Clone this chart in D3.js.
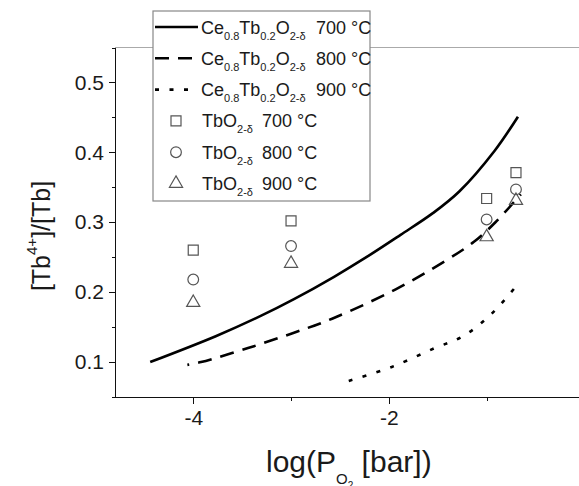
<!DOCTYPE html>
<meta charset="utf-8">
<style>
body { margin: 0; background: #fff; }
svg { display: block; font-family: "Liberation Sans", Arial, sans-serif; }
.axis path, .axis line { fill: none; stroke: #111; shape-rendering: crispEdges; }
.axis text { font-size: 21px; fill: #1a1a1a; }
.series { fill: none; stroke: #000; stroke-width: 2.6; }
.mark { fill: none; stroke: #555; stroke-width: 1.2; }
</style>
<body>
<script src="https://cdn.jsdelivr.net/npm/d3@7"></script>
<script>
// Ce0.8Tb0.2O2-d curves (log pO2 vs [Tb4+]/[Tb])
var x700 = [-4.44, -3.77, -3.31, -2.97, -2.56, -2.23, -1.88, -1.55, -1.28, -0.92, -0.68];
var y700 = [0.100, 0.137, 0.166, 0.190, 0.222, 0.250, 0.282, 0.313, 0.344, 0.402, 0.451];
var x800 = [-4.06, -3.92, -3.44, -2.97, -2.58, -1.93, -1.42, -1.13, -0.91, -0.65];
var y800 = [0.096, 0.100, 0.120, 0.142, 0.162, 0.204, 0.245, 0.272, 0.300, 0.340];
var x900 = [-2.41, -1.97, -1.53, -1.24, -0.95, -0.69];
var y900 = [0.073, 0.093, 0.120, 0.137, 0.169, 0.210];

// TbO2-d points
var tbX = [-4, -3, -1, -0.7];
var tb700 = [0.260, 0.302, 0.334, 0.371];
var tb800 = [0.218, 0.266, 0.304, 0.347];
var tb900 = [0.185, 0.241, 0.279, 0.331];

var xMajor = [-4, -2, 0];
var xMinor = [-3, -1];
var yMajor = [0.1, 0.2, 0.3, 0.4, 0.5];
var yMinor = [0.05, 0.15, 0.25, 0.35, 0.45, 0.55];

var W = 579, H = 486;
var mLeft = 115, mTop = 47.5, mBottom = 397;

var x = d3.scaleLinear().domain([-4.8, 0]).range([mLeft, mLeft + 4.8 * 97.8]);
var y = d3.scaleLinear().domain([0.05, 0.55]).range([mBottom, mTop]);

var svg = d3.select("body").append("svg")
    .attr("width", W)
    .attr("height", H);

// top frame line (grey)
svg.append("line")
    .attr("x1", mLeft).attr("x2", x.range()[1])
    .attr("y1", mTop).attr("y2", mTop)
    .style("stroke", "#aaa").style("stroke-width", 1.2);

// axes
svg.append("g")
    .attr("class", "axis")
    .attr("transform", "translate(0," + mBottom + ")")
    .call(d3.axisBottom(x).tickValues(xMajor).tickSize(7).tickSizeOuter(0).tickPadding(6)
      .tickFormat(function(d) { return d === 0 ? "0" : String(d); }));
svg.append("g")
    .attr("class", "axis")
    .attr("transform", "translate(0," + mBottom + ")")
    .call(d3.axisBottom(x).tickValues(xMinor).tickSize(4).tickSizeOuter(0).tickFormat(""));

svg.append("g")
    .attr("class", "axis")
    .attr("transform", "translate(" + mLeft + ",0)")
    .call(d3.axisLeft(y).tickValues(yMajor).tickSize(6).tickSizeOuter(0).tickPadding(5)
      .tickFormat(d3.format(".1f")));
svg.append("g")
    .attr("class", "axis")
    .attr("transform", "translate(" + mLeft + ",0)")
    .call(d3.axisLeft(y).tickValues(yMinor).tickSize(3.5).tickSizeOuter(0).tickFormat(""));

// curves
var line = d3.line()
    .x(function(d) { return x(d[0]); })
    .y(function(d) { return y(d[1]); })
    .curve(d3.curveCatmullRom.alpha(0.5));

function pairs(xs, ys) { return xs.map(function(v, i) { return [v, ys[i]]; }); }

svg.append("path").attr("class", "series")
    .attr("d", line(pairs(x700, y700)));
svg.append("path").attr("class", "series")
    .attr("d", line(pairs(x800, y800)))
    .style("stroke-dasharray", "14,9").style("stroke-dashoffset", 12);
svg.append("path").attr("class", "series")
    .attr("d", line(pairs(x900, y900)))
    .style("stroke-dasharray", "4,10.5");

// TbO2 markers
var sq = d3.symbol().type(d3.symbolSquare).size(100);
var ci = d3.symbol().type(d3.symbolCircle).size(90);
var tr = d3.symbol().type(d3.symbolTriangle).size(75);

function marks(vals, sym) {
  svg.selectAll(null)
      .data(vals)
    .enter().append("path")
      .attr("class", "mark")
      .attr("d", sym)
      .attr("transform", function(d, i) { return "translate(" + x(tbX[i]) + "," + y(d) + ")"; });
}
marks(tb700, sq);
marks(tb800, ci);
marks(tb900, tr);

// axis titles
var yl = svg.append("text")
    .attr("transform", "translate(50,236) rotate(-90)")
    .attr("text-anchor", "middle")
    .style("font-size", "25px").style("fill", "#1a1a1a");
yl.append("tspan").text("[Tb");
yl.append("tspan").text("4+").style("font-size", "15px").attr("dy", -13);
yl.append("tspan").text("]/[Tb]").attr("dy", 13);

var xl = svg.append("text")
    .attr("x", 266).attr("y", 471.5)
    .style("font-size", "30px").style("fill", "#1a1a1a");
xl.append("tspan").text("log(P");
xl.append("tspan").text("O").style("font-size", "15px").attr("dy", 12);
xl.append("tspan").text("2").style("font-size", "10px").attr("dy", 5);
xl.append("tspan").text(" [bar])").attr("dy", -17);

// legend
var lg = svg.append("g");
lg.append("rect")
    .attr("x", 153).attr("y", 11).attr("width", 217).attr("height", 190)
    .style("fill", "#fff").style("stroke", "#888").style("stroke-width", 1.2);

var rowY = function(i) { return 27 + i * 31.3; };
var dashes = [null, "14,9", "4,10.5"];
var temps = ["700 °C", "800 °C", "900 °C"];

dashes.forEach(function(da, i) {
  var l = lg.append("line").attr("class", "series")
      .attr("x1", 155).attr("x2", 198)
      .attr("y1", rowY(i)).attr("y2", rowY(i));
  if (da) l.style("stroke-dasharray", da);
  var t = lg.append("text")
      .attr("x", 201).attr("y", rowY(i) + 6.5)
      .style("font-size", "18px").style("fill", "#1a1a1a");
  t.append("tspan").text("Ce");
  t.append("tspan").text("0.8").style("font-size", "11px").attr("dy", 6);
  t.append("tspan").text("Tb").attr("dy", -6);
  t.append("tspan").text("0.2").style("font-size", "11px").attr("dy", 6);
  t.append("tspan").text("O").attr("dy", -6);
  t.append("tspan").text("2-δ").style("font-size", "11px").attr("dy", 6);
  lg.append("text")
      .attr("x", 316).attr("y", rowY(i) + 6.5)
      .style("font-size", "18px").style("fill", "#1a1a1a")
      .text(temps[i]);
});

[sq, ci, tr].forEach(function(sym, i) {
  var r = i + 3;
  lg.append("path").attr("class", "mark")
      .attr("d", sym)
      .attr("transform", "translate(176," + rowY(r) + ")");
  var t = lg.append("text")
      .attr("x", 202).attr("y", rowY(r) + 6.5)
      .style("font-size", "18px").style("fill", "#1a1a1a");
  t.append("tspan").text("TbO");
  t.append("tspan").text("2-δ").style("font-size", "11px").attr("dy", 6);
  lg.append("text")
      .attr("x", 262).attr("y", rowY(r) + 6.5)
      .style("font-size", "18px").style("fill", "#1a1a1a")
      .text(temps[i]);
});
</script>
